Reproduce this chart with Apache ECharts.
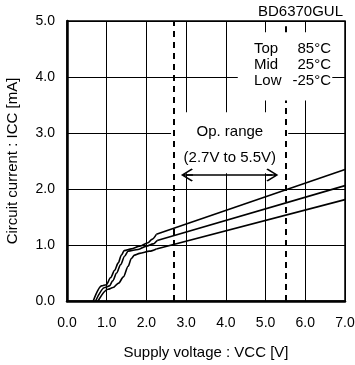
<!DOCTYPE html>
<html>
<head>
<meta charset="utf-8">
<script src="https://cdn.jsdelivr.net/npm/echarts@6/dist/echarts.min.js"></script>
<style>html,body{margin:0;padding:0;background:#fff}#c{width:355px;height:365px}</style>
</head>
<body>
<div id="c"></div>
<script>
// Supply voltage (V) / circuit current (mA) pairs for each temperature
var top85V  = [0.66, 0.87, 0.99, 1.10, 1.20, 1.29, 1.37, 1.44, 1.62, 1.83, 2.04, 2.14, 2.25, 7.00];
var top85I  = [0.00, 0.27, 0.29, 0.42, 0.55, 0.68, 0.82, 0.90, 0.93, 0.98, 1.04, 1.10, 1.19, 2.35];
var mid25V  = [0.72, 0.95, 1.07, 1.15, 1.25, 1.35, 1.45, 1.54, 1.79, 2.00, 2.17, 2.27, 7.00];
var mid25I  = [0.00, 0.24, 0.27, 0.36, 0.50, 0.65, 0.80, 0.89, 0.92, 0.98, 1.02, 1.08, 2.06];
var lowM25V = [0.78, 1.03, 1.16, 1.30, 1.42, 1.54, 1.62, 1.70, 1.83, 2.08, 2.25, 7.00];
var lowM25I = [0.00, 0.21, 0.24, 0.32, 0.43, 0.62, 0.76, 0.82, 0.85, 0.89, 0.93, 1.81];
var opRange = [2.7, 5.5];
var legendNames = ['Top', 'Mid', 'Low'];
var legendTemps = ['85°C', '25°C', '-25°C'];
var xTicks = [0, 7, 1];
var yTicks = [0, 5, 1];

function pairs(xs, ys){ return xs.map(function(x,i){ return [x, ys[i]]; }); }

var FONT = 'Liberation Sans, Arial, sans-serif';
var chart = echarts.init(document.getElementById('c'));
var lineStyle = {color:'#000', width:1.6};
var chevron = 'path://M0,0 L10,10 L8.6,11.4 L1,3.8 L1,11.4 L-1,11.4 L-1,3.8 L-8.6,11.4 L-10,10 Z';
// legend box extent in data units (annotation layout)
var legBox = {x0:4.3, x1:6.68, y0:3.58, y1:4.8};

var series = [];
[[top85V, top85I], [mid25V, mid25I], [lowM25V, lowM25I]].forEach(function(c){
  var pts = pairs(c[0], c[1]);
  series.push({type:'line', data:pts.slice(0, pts.length - 1), showSymbol:false, smooth:0.3, smoothMonotone:'x', lineStyle:lineStyle, z:7});
  series.push({type:'line', data:pts.slice(pts.length - 2), showSymbol:false, smooth:false, lineStyle:lineStyle, z:7});
});

series.push(
  // Op. range white box + texts
  {type:'line', data:[], z:2,
    markArea:{silent:true, z:2, itemStyle:{color:'#fff'}, data:[[{coord:[2.62,3.37]},{coord:[5.57,2.28]}]]},
    markPoint:{symbol:'circle', symbolSize:0, silent:true, z:6,
      label:{show:true, position:'inside', color:'#000', fontFamily:FONT, fontSize:15},
      data:[
        {coord:[4.1,3.02], value:'Op. range', label:{formatter:'Op. range'}},
        {coord:[4.1,2.56], value:'range', label:{formatter:'(' + opRange[0] + 'V to ' + opRange[1] + 'V)'}}
      ]}
  },
  // legend white box
  {type:'line', data:[], z:3,
    markArea:{silent:true, z:3, itemStyle:{color:'#fff'}, data:[[{coord:[legBox.x0,legBox.y1]},{coord:[legBox.x1,legBox.y0]}]]}
  },
  // dashed op-range lines (upper one interrupted by the legend box)
  {type:'line', data:[], z:4,
    markLine:{silent:true, z:4, symbol:'none', label:{show:false},
      lineStyle:{color:'#000', width:2, type:[6,5]},
      data:[
        {xAxis:opRange[0]},
        [{coord:[opRange[1], yTicks[0]]},{coord:[opRange[1], legBox.y0]}],
        [{coord:[opRange[1], legBox.y1]},{coord:[opRange[1], yTicks[1]]}]
      ]}
  },
  // double arrow
  {type:'line', data:[], z:5,
    markLine:{silent:true, z:5, label:{show:false},
      symbol:[chevron, chevron], symbolSize:[13,12],
      lineStyle:{color:'#000', width:1.6, type:'solid'},
      data:[[{coord:[3.02,2.25]},{coord:[5.17,2.25]}]]}
  }
);

var graphics = [
  {type:'text', right:12, top:4, z:30, style:{text:'BD6370GUL', fill:'#000', font:'15px ' + FONT}}
];
legendNames.forEach(function(n,i){
  graphics.push({type:'text', left:254, top:41 + i*16, z:30, style:{text:n, fill:'#000', font:'15px ' + FONT}});
});
legendTemps.forEach(function(t,i){
  graphics.push({type:'text', right:24, top:41 + i*16, z:30, style:{text:t, fill:'#000', font:'15px ' + FONT}});
});

chart.setOption({
  animation:false,
  backgroundColor:'#fff',
  textStyle:{fontFamily:FONT},
  grid:{left:67, right:10, top:21, bottom:64, containLabel:false, outerBoundsMode:'none',
    show:true, borderColor:'#000', borderWidth:1.5, backgroundColor:'transparent'},
  xAxis:{type:'value', min:xTicks[0], max:xTicks[1], interval:xTicks[2],
    name:'Supply voltage : VCC [V]', nameLocation:'middle', nameGap:44,
    nameTextStyle:{color:'#000', fontSize:15, fontFamily:FONT},
    axisLine:{lineStyle:{color:'#000', width:2.5}}, axisTick:{show:false},
    axisLabel:{color:'#000', fontSize:14, margin:15, fontFamily:FONT, formatter:function(v){return v.toFixed(1);}},
    splitLine:{show:true, lineStyle:{color:'#000', width:1}}},
  yAxis:{type:'value', min:yTicks[0], max:yTicks[1], interval:yTicks[2],
    name:'Circuit current : ICC [mA]', nameLocation:'middle', nameGap:47,
    nameTextStyle:{color:'#000', fontSize:15, fontFamily:FONT},
    axisLine:{show:true, lineStyle:{color:'#000', width:2.5}}, axisTick:{show:false},
    axisLabel:{color:'#000', fontSize:14, margin:12, fontFamily:FONT, formatter:function(v){return v.toFixed(1);}},
    splitLine:{show:true, lineStyle:{color:'#000', width:1}}},
  graphic:graphics,
  series:series
});
</script>
</body>
</html>
